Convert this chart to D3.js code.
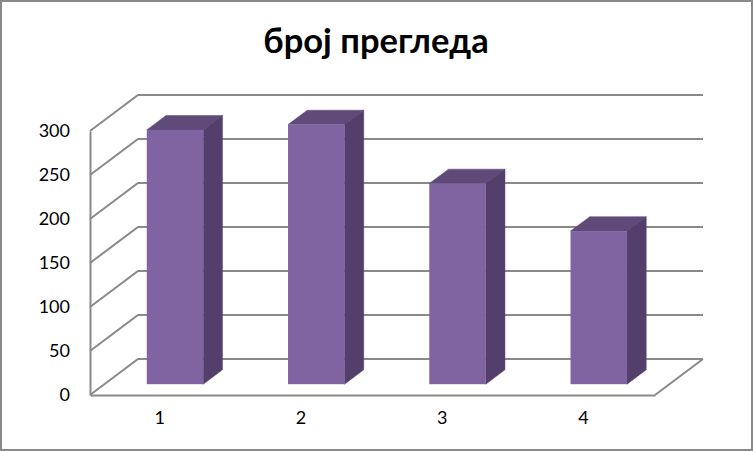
<!DOCTYPE html>
<html>
<head>
<meta charset="utf-8">
<script src="https://cdn.jsdelivr.net/npm/d3@7"></script>
<style>
    html, body { margin: 0; padding: 0; background: #fff; }
    svg { display: block; }
    text { font-family: Lato, "Open Sans", sans-serif; fill: #000; }
</style>
</head>
<body>
<div id="chart"></div>
<script>
const categories = ['1', '2', '3', '4'];
const values = [289, 295, 228, 174];
const yTicks = [0, 50, 100, 150, 200, 250, 300];
const chartTitle = 'број прегледа';

const width = 753, height = 451;
const lineColor = '#898989';

// front plane of the 3d box, the back wall is this shifted by depth
const plot = { left: 90, right: 655, bottom: 395, top: 131 };
const depth = { x: 48, y: 36 };

const svg = d3.select('#chart').append('svg')
    .attr('width', width)
    .attr('height', height);

svg.append('rect')
    .attr('x', 1).attr('y', 1)
    .attr('width', width - 2).attr('height', height - 2)
    .attr('fill', '#fff')
    .attr('stroke', lineColor)
    .attr('stroke-width', 2);

svg.append('text')
    .attr('x', 376)
    .attr('y', 53)
    .attr('text-anchor', 'middle')
    .attr('font-size', 34.5)
    .attr('font-weight', 700)
    .text(chartTitle);

const x = d3.scaleBand()
    .domain(categories)
    .range([plot.left, plot.right])
    .paddingInner(0.6)
    .paddingOuter(0.3);

const y = d3.scaleLinear()
    .domain([0, 300])
    .range([plot.bottom, plot.top]);

// gridlines: along the left wall, then across the back wall
const grid = svg.append('g')
    .attr('fill', 'none')
    .attr('stroke', lineColor)
    .attr('stroke-width', 2);

grid.selectAll('path')
    .data(yTicks)
    .enter().append('path')
    .attr('d', d => {
        const p = d3.path();
        p.moveTo(plot.left, y(d));
        p.lineTo(plot.left + depth.x, y(d) - depth.y);
        p.lineTo(plot.right + depth.x, y(d) - depth.y);
        return p.toString();
    });

// floor edge
grid.append('line')
    .attr('x1', plot.right).attr('y1', plot.bottom)
    .attr('x2', plot.right + depth.x).attr('y2', plot.bottom - depth.y);

// axes
const yAxis = svg.append('g')
    .attr('transform', `translate(${plot.left},0)`)
    .call(d3.axisLeft(y).tickValues(yTicks).tickSize(0).tickPadding(20));

const xAxis = svg.append('g')
    .attr('transform', `translate(-1,${plot.bottom})`)
    .call(d3.axisBottom(x).tickSize(0).tickPadding(16));

[yAxis, xAxis].forEach(axis => {
    axis.select('.domain').attr('stroke', lineColor).attr('stroke-width', 2);
    axis.selectAll('text').attr('font-size', 18).style('font-family', 'Lato');
});
// the x axis group is nudged for its labels, keep its line on the plot
xAxis.select('.domain').attr('transform', 'translate(1,0)');

// bars sit 30% into the depth and take up 40% of it
const barShift = { x: depth.x * 0.3, y: depth.y * 0.3 };
const barDepth = { x: depth.x * 0.4, y: depth.y * 0.4 };

const bars = svg.selectAll('.bar')
    .data(categories.map((c, i) => ({ c, v: values[i] })))
    .enter().append('g')
    .attr('class', 'bar')
    .attr('transform', `translate(${barShift.x},${-barShift.y})`);

// top and side first with a thin stroke so no seam shows at the front face
bars.append('path')
    .attr('fill', '#5f4a7a')
    .attr('stroke', '#5f4a7a')
    .attr('stroke-width', 0.5)
    .attr('d', d => {
        const l = x(d.c), r = l + x.bandwidth(), t = y(d.v);
        return `M${l},${t}L${l + barDepth.x},${t - barDepth.y}L${r + barDepth.x},${t - barDepth.y}L${r},${t}Z`;
    });

bars.append('path')
    .attr('fill', '#543f6c')
    .attr('stroke', '#543f6c')
    .attr('stroke-width', 0.5)
    .attr('d', d => {
        const r = x(d.c) + x.bandwidth(), t = y(d.v), b = y(0);
        return `M${r},${t}L${r + barDepth.x},${t - barDepth.y}L${r + barDepth.x},${b - barDepth.y}L${r},${b}Z`;
    });

bars.append('rect')
    .attr('x', d => x(d.c))
    .attr('y', d => y(d.v))
    .attr('width', x.bandwidth())
    .attr('height', d => y(0) - y(d.v))
    .attr('fill', '#8064a2');
</script>
</body>
</html>
